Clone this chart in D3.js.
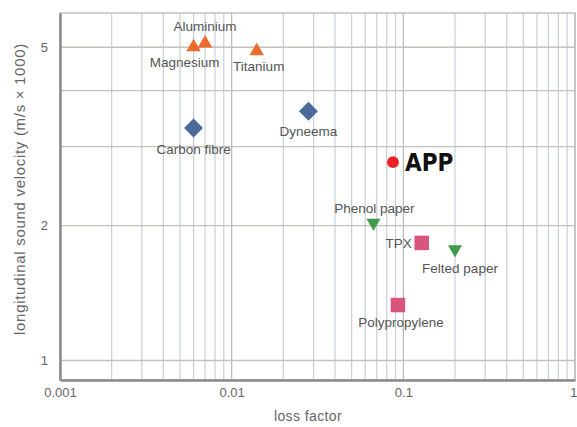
<!DOCTYPE html>
<html>
<head>
<meta charset="utf-8">
<script src="https://cdn.jsdelivr.net/npm/d3@7"></script>
<style>
  body { margin: 0; background: #fff; }
  svg { display: block; font-family: "Liberation Sans", Arial, sans-serif; }
</style>
</head>
<body>
<script>
// materials, loss factor and sound velocity (m/s x 1000)
var materials = ["Aluminium", "Magnesium", "Titanium", "Carbon fibre", "Dyneema", "APP",
                 "Phenol paper", "TPX", "Felted paper", "Polypropylene"];
var lossFactor = [0.007, 0.006, 0.014, 0.006, 0.028, 0.087, 0.067, 0.128, 0.2, 0.093];
var velocity = [5.1, 5.0, 4.9, 3.3, 3.6, 2.77, 2.03, 1.83, 1.77, 1.33];
var group = ["metal", "metal", "metal", "fibre", "fibre", "app", "paper", "poly", "paper", "poly"];

var xTicks = [0.001, 0.01, 0.1, 1];
var xTickLabels = ["0.001", "0.01", "0.1", "1"];
var yTicks = [1, 2, 5];
var yGrid = [1, 2, 3, 4, 5];

var w = 577, h = 427;
var pLeft = 60, pRight = 575, pTop = 13, pBottom = 380;

var x = d3.scaleLog().domain([0.001, 1]).range([pLeft, pRight]);
var y = d3.scaleLog().domain([0.905, 5.96]).range([pBottom, pTop]);

var svg = d3.select("body").append("svg")
    .attr("width", w)
    .attr("height", h);

// vertical grid, 1..9 in each decade
var xGrid = [];
[0.001, 0.01, 0.1].forEach(function (dec) {
    for (var k = 1; k <= 9; k++) xGrid.push(dec * k);
});
xGrid.push(1);

svg.append("g").selectAll("line")
    .data(xGrid)
    .enter()
    .append("line")
    .attr("x1", function (d) { return x(d); })
    .attr("x2", function (d) { return x(d); })
    .attr("y1", pTop)
    .attr("y2", pBottom)
    .attr("stroke", function (d, i) { return i % 9 == 0 ? "#b8b8b8" : "#c9ced6"; })
    .attr("stroke-width", 1.2);

svg.append("g").selectAll("line")
    .data(yGrid)
    .enter()
    .append("line")
    .attr("x1", pLeft)
    .attr("x2", pRight)
    .attr("y1", function (d) { return y(d); })
    .attr("y2", function (d) { return y(d); })
    .attr("stroke", "#c4c0bc")
    .attr("stroke-width", 1.4);

// frame
svg.append("rect")
    .attr("x", pLeft).attr("y", pTop)
    .attr("width", pRight - pLeft).attr("height", pBottom - pTop)
    .attr("fill", "none")
    .attr("stroke", "#c0c0c0")
    .attr("stroke-width", 1.5);

// axes
var xAxis = d3.axisBottom(x)
    .tickValues(xTicks)
    .tickFormat(function (d, i) { return xTickLabels[i]; })
    .tickSize(0)
    .tickPadding(8);
var gx = svg.append("g")
    .attr("transform", "translate(0," + pBottom + ")")
    .call(xAxis);
gx.select(".domain").attr("stroke", "#8a8a8a").attr("stroke-width", 2.5);
gx.selectAll("text").attr("fill", "#666").style("font-size", "13px");
// last label sits at the page edge
gx.selectAll(".tick text")
    .filter(function (d) { return d == 1; })
    .attr("text-anchor", "end")
    .attr("dx", 2);

var yAxis = d3.axisLeft(y)
    .tickValues(yTicks)
    .tickFormat(d3.format("d"))
    .tickSize(0)
    .tickPadding(12);
var gy = svg.append("g")
    .attr("transform", "translate(" + pLeft + ",0)")
    .call(yAxis);
gy.select(".domain").attr("stroke", "#8a8a8a").attr("stroke-width", 2.5);
gy.selectAll("text").attr("fill", "#666").style("font-size", "13px");

// axis titles
svg.append("text")
    .attr("x", 308).attr("y", 421)
    .attr("text-anchor", "middle")
    .attr("fill", "#666")
    .style("font-size", "14px")
    .style("letter-spacing", "0.4px")
    .text("loss factor");

svg.append("text")
    .attr("transform", "translate(25,189) rotate(-90)")
    .attr("text-anchor", "middle")
    .attr("fill", "#666")
    .style("font-size", "15px")
    .style("letter-spacing", "0.7px")
    .text("longitudinal sound velocity (m/s × 1000)");

// markers
var colors = { metal: "#ec6a2c", fibre: "#4b6a9b", app: "#ee2222", paper: "#3f9a4e", poly: "#d9557c" };
var symbols = {
    metal: d3.symbol().type(d3.symbolTriangle).size(90),
    fibre: d3.symbol().type(d3.symbolSquare).size(180),
    app: d3.symbol().type(d3.symbolCircle).size(110),
    paper: d3.symbol().type(d3.symbolTriangle).size(85),
    poly: d3.symbol().type(d3.symbolSquare).size(210)
};

svg.append("g").selectAll("path")
    .data(materials)
    .enter()
    .append("path")
    .attr("d", function (d, i) { return symbols[group[i]](); })
    .attr("transform", function (d, i) {
        var t = "translate(" + x(lossFactor[i]) + "," + y(velocity[i]) + ")";
        if (group[i] == "paper") t += " rotate(180)";
        if (group[i] == "fibre") t += " rotate(45)";
        return t;
    })
    .attr("fill", function (d, i) { return colors[group[i]]; });

// labels: offset from each point, and text anchor
var labelDx = [0, -9, 2, 0, 0, 12, 1, -10, 5, 3];
var labelDy = [-12, 20, 20, 26, 25, 9, -10, 5, 24, 22];
var anchors = ["middle", "middle", "middle", "middle", "middle", "start", "middle", "end", "middle", "middle"];

svg.append("g").selectAll("text")
    .data(materials)
    .enter()
    .append("text")
    .attr("x", function (d, i) { return x(lossFactor[i]) + labelDx[i]; })
    .attr("y", function (d, i) { return y(velocity[i]) + labelDy[i]; })
    .attr("text-anchor", function (d, i) { return anchors[i]; })
    .attr("fill", function (d, i) { return group[i] == "app" ? "#111" : "#555"; })
    .style("font-size", function (d, i) { return group[i] == "app" ? "24px" : "13.5px"; })
    .style("font-weight", function (d, i) { return group[i] == "app" ? "bold" : "normal"; })
    .style("font-family", function (d, i) {
        return group[i] == "app" ? "'Liberation Sans Narrow', 'DejaVu Sans Condensed', sans-serif" : null;
    })
    .text(function (d) { return d; });
</script>
</body>
</html>
